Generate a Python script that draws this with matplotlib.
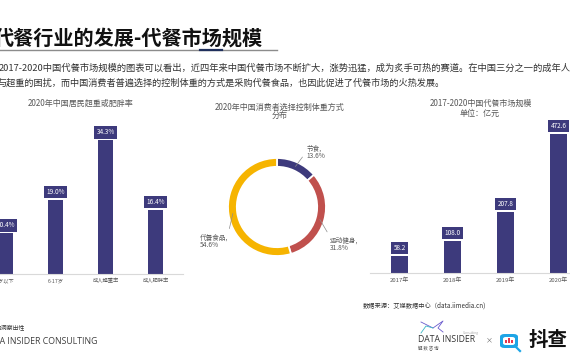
import matplotlib.pyplot as plt
from matplotlib.lines import Line2D
from matplotlib.patches import FancyBboxPatch, Rectangle
import numpy as np

plt.rcParams['font.family'] = ['Noto Sans CJK SC', 'DejaVu Sans']

# 数据
obesity_labels = ['6岁以下', '6-17岁', '成人超重率', '成人肥胖率']
obesity_rates = [10.4, 19.0, 34.3, 16.4]

method_labels = ['节食', '运动健身', '代餐食品']
method_shares = [13.6, 31.8, 54.6]

market_years = ['2017年', '2018年', '2019年', '2020年']
market_size = [58.2, 108.0, 207.8, 472.6]

NAVY = '#3d3a7c'
RED = '#c0504d'
YELLOW = '#f6b400'
GREY_TXT = '#595959'

W, H = 570, 360
fig = plt.figure(figsize=(5.7, 3.6), dpi=100)


def px_axes(x0, y0, x1, y1):
    # 像素坐标（左上为原点）-> figure 坐标
    return fig.add_axes([x0 / W, 1 - y1 / H, (x1 - x0) / W, (y1 - y0) / H])


def ftext(x, y, s, **kw):
    return fig.text(x / W, 1 - y / H, s, **kw)


def fline(xs, ys, **kw):
    fig.add_artist(Line2D([x / W for x in xs], [1 - y / H for y in ys], **kw))


# 标题与说明文字
ftext(-6, 38, '代餐行业的发展-代餐市场规模', fontsize=14.5, fontweight='bold',
      color='#111111', va='center')
fline([0, 277], [50, 50], color='#8c8c8c', lw=1.0)
fline([200, 222], [50, 50], color='#1f2f5c', lw=1.6)
ftext(-1, 68, '2017-2020中国代餐市场规模的图表可以看出，近四年来中国代餐市场不断扩大，涨势迅猛，'
      '成为炙手可热的赛道。在中国三分之一的成年人', fontsize=6.7, color='#333333', va='center')
ftext(-3, 83, '与超重的困扰，而中国消费者普遍选择的控制体重的方式是采购代餐食品，也因此促进了代餐市场的火热发展。',
      fontsize=6.6, color='#333333', va='center')


def bar_style(ax):
    for s in ['top', 'right', 'left']:
        ax.spines[s].set_visible(False)
    ax.spines['bottom'].set_color('#d9d9d9')
    ax.spines['bottom'].set_linewidth(0.8)
    ax.set_yticks([])
    ax.tick_params(axis='x', length=0, colors=GREY_TXT, pad=3)
    ax.patch.set_alpha(0)


box = dict(boxstyle='square,pad=0.35', fc=NAVY, ec='none')

# 左：超重或肥胖率
ax1 = px_axes(0, 120, 183, 274)
x1 = list(range(len(obesity_rates)))
ax1.bar(x1, obesity_rates, width=0.31, color=NAVY)
ax1.set_xlim(-0.11, 3.55)
ax1.set_ylim(0, 39.5)
ax1.set_xticks(x1)
ax1.set_xticklabels(obesity_labels, fontsize=3.8)
bar_style(ax1)
for i, v in enumerate(obesity_rates):
    ax1.annotate(f'{v:.1f}%', (i, v), xytext=(0, 8), textcoords='offset pixels',
                 ha='center', va='center', fontsize=4.6, color='white', bbox=box,
                 annotation_clip=False)
ftext(81, 103, '2020年中国居民超重或肥胖率', fontsize=5.8, color=GREY_TXT, ha='center', va='center')

# 中：控制体重方式
ax2 = px_axes(217, 147, 337, 267)
wedges, _ = ax2.pie(method_shares, colors=[NAVY, RED, YELLOW], startangle=90,
                    counterclock=False, radius=1,
                    wedgeprops=dict(width=0.18, edgecolor='white', linewidth=1.3))
ax2.set_xlim(-60 / 49, 60 / 49)
ax2.set_ylim(-60 / 49, 60 / 49)
ax2.axis('off')
offsets = [(11, 14), (10, -25), (-33, -28)]
relpos = [(0, 0.55), (0, 1), (1, 1)]
for w, lab, v, off, rp in zip(wedges, method_labels, method_shares, offsets, relpos):
    mid = np.deg2rad((w.theta1 + w.theta2) / 2)
    pt = (0.91 * np.cos(mid), 0.91 * np.sin(mid))
    ax2.annotate(f'{lab},\n{v:.1f}%', pt, xytext=off, textcoords='offset pixels',
                 ha='left', va='center', fontsize=4.8, color=GREY_TXT, linespacing=1.0,
                 annotation_clip=False,
                 arrowprops=dict(arrowstyle='-', color='#8c8c8c', lw=0.5,
                                 shrinkA=1.5, shrinkB=0, relpos=rp))
ftext(280, 107, '2020年中国消费者选择控制体重方式', fontsize=5.8, color=GREY_TXT, ha='center', va='center')
ftext(280, 116, '分布', fontsize=5.8, color=GREY_TXT, ha='center', va='center')

# 右：代餐市场规模
ax3 = px_axes(370, 120, 580, 273)
x3 = list(range(len(market_size)))
ax3.bar(x3, market_size, width=0.32, color=NAVY)
ax3.set_xlim(-0.557, 3.406)
ax3.set_ylim(0, 520)
ax3.set_xticks(x3)
ax3.set_xticklabels(market_years, fontsize=4.3)
bar_style(ax3)
for i, v in enumerate(market_size):
    ax3.annotate(f'{v:.1f}', (i, v), xytext=(0, 8), textcoords='offset pixels',
                 ha='center', va='center', fontsize=4.6, color='white', bbox=box,
                 annotation_clip=False)
ftext(481, 103, '2017-2020中国代餐市场规模', fontsize=5.8, color=GREY_TXT, ha='center', va='center')
ftext(480, 113, '单位：亿元', fontsize=5.8, color=GREY_TXT, ha='center', va='center')

ftext(363, 306, '数据来源：艾媒数据中心（data.iimedia.cn)', fontsize=4.5, color='#333333', va='center')

# 页脚
ftext(-4, 327, '与洞察出性', fontsize=4.2, color='#333333', va='center')
ftext(97, 341, 'DATA INSIDER CONSULTING', fontsize=6.3, color='#404040', va='center', ha='right',
      family='Open Sans')

fline([421, 433, 443, 438, 443], [322, 328, 321, 328, 332], color='#6a5acd', lw=0.6)
fline([421, 426, 433], [333, 326, 328], color='#3bb9c6', lw=0.6)
ftext(418, 340, 'DATA INSIDER', fontsize=6.2, color='#333333', va='center', family='Open Sans')
ftext(463, 333, 'Consulting', fontsize=2.3, color='#aaaaaa', va='center', family='Open Sans')
ftext(418, 348, '解 数 咨 询', fontsize=3.2, color='#555555', va='center')
ftext(486, 340, '×', fontsize=5, color='#666666', va='center')

icon = FancyBboxPatch((500 / W, 1 - 348 / H), 18 / W, 14 / H, boxstyle='round,pad=0,rounding_size=0.008',
                      transform=fig.transFigure, fc='#1ea5e6', ec='none')
fig.add_artist(icon)
inner = FancyBboxPatch((503 / W, 1 - 345 / H), 12 / W, 8 / H, boxstyle='round,pad=0,rounding_size=0.005',
                       transform=fig.transFigure, fc='white', ec='none')
fig.add_artist(inner)
for bx, bh in [(505, 3), (508, 5), (511, 3.5)]:
    fig.add_artist(Rectangle((bx / W, 1 - 343 / H), 2 / W, bh / H, transform=fig.transFigure,
                             fc='#e8384f', ec='none'))
fline([515, 520], [346, 351], color='#1ea5e6', lw=1.6)
ftext(529, 340, '抖查', fontsize=14, fontweight='bold', color='#111111', va='center')

fig.savefig('out.png', dpi=100)
